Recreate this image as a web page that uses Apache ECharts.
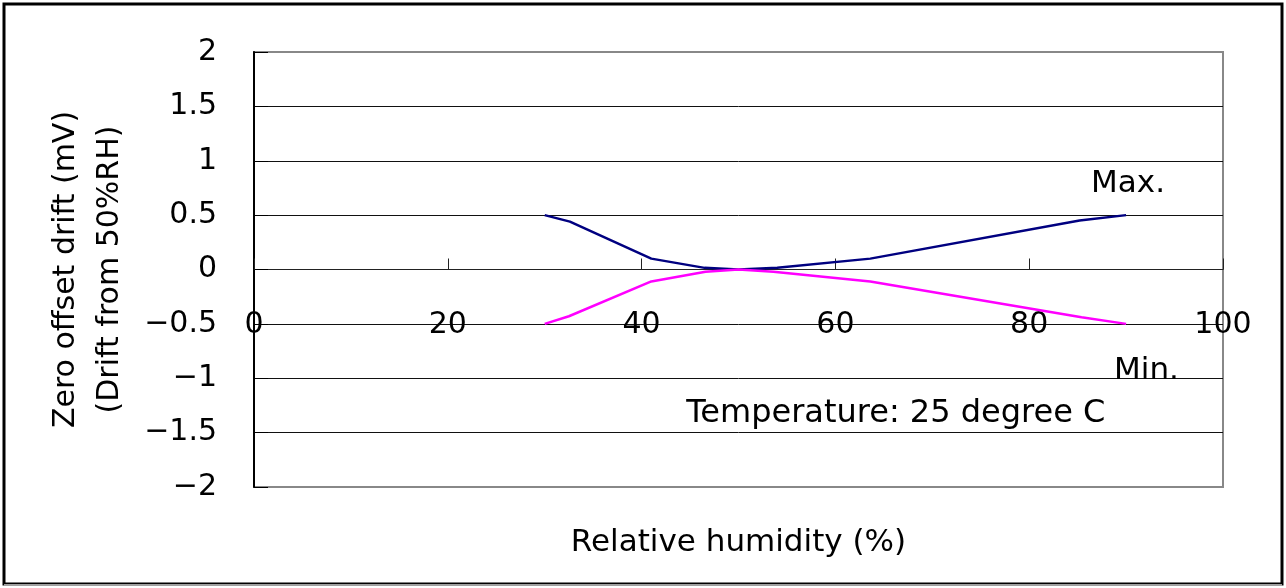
<!DOCTYPE html>
<html>
<head>
<meta charset="utf-8">
<script src="https://cdn.jsdelivr.net/npm/echarts@6/dist/echarts.min.js"></script>
<style>
html,body{margin:0;padding:0;background:#fff;}
#chart{width:1286px;height:588px;}
</style>
</head>
<body>
<div id="chart"></div>
<script>
// Data
const maxHumidity = [30, 32.6, 41, 46.5, 50, 54, 63.6, 85.2, 90];
const maxDrift    = [0.5, 0.44, 0.1, 0.015, 0, 0.015, 0.1, 0.45, 0.5];
const minHumidity = [30, 32.5, 41, 46.6, 50, 53.6, 63.6, 85.4, 90];
const minDrift    = [-0.5, -0.43, -0.11, -0.02, 0, -0.02, -0.11, -0.44, -0.5];
const xTickValues = [0, 20, 40, 60, 80, 100];
const yTickValues = [-2, -1.5, -1, -0.5, 0, 0.5, 1, 1.5, 2];
const labelMax = 'Max.';
const labelMin = 'Min.';
const noteText = 'Temperature: 25 degree C';
const xTitle = 'Relative humidity (%)';
const yTitle = 'Zero offset drift (mV)\n(Drift from 50%RH)';

const FONT = 'DejaVu Sans';
const chart = echarts.init(document.getElementById('chart'), null, {renderer: 'canvas'});

function pairs(xs, ys){ return xs.map((x,i)=>[x, ys[i]]); }

chart.setOption({
  animation: false,
  backgroundColor: '#ffffff',
  textStyle: {fontFamily: FONT},
  graphic: [
    {type:'rect', shape:{x:4, y:4, width:1278, height:580}, style:{fill:'none', stroke:'#000', lineWidth:3}, z:-10},
    {type:'line', shape:{x1:4, y1:585, x2:1282, y2:585}, style:{stroke:'#a0a0a0', lineWidth:2}, z:-9}
  ],
  grid: {
    left: 254, right: 63, top: 52, bottom: 101,
    containLabel: false, outerBoundsMode: 'none',
    show: true, borderColor: '#888', borderWidth: 2, backgroundColor: 'transparent'
  },
  xAxis: {
    type: 'value', min: 0, max: 100, interval: 20,
    axisLine: {show: true, onZero: true, lineStyle: {color: '#222', width: 1}},
    axisTick: {show: true, inside: true, length: 11, lineStyle: {color: '#222', width: 1}},
    axisLabel: {
      show: true, margin: -177, fontSize: 30, fontFamily: FONT, color: '#000',
      showMinLabel: true, showMaxLabel: true, hideOverlap: false
    },
    splitLine: {show: false},
    name: xTitle, nameLocation: 'middle', nameGap: 40,
    nameTextStyle: {fontSize: 31, fontFamily: FONT, color: '#000'}
  },
  yAxis: {
    type: 'value', min: -2, max: 2, interval: 0.5,
    axisLine: {show: true, onZero: false, lineStyle: {color: '#000', width: 2}},
    axisTick: {show: true, inside: true, length: 14, lineStyle: {color: '#000', width: 1}},
    axisLabel: {
      margin: 37, fontSize: 30, fontFamily: FONT, color: '#000',
      showMinLabel: true, showMaxLabel: true, hideOverlap: false,
      formatter: v => String(v).replace('-', '\u2212')
    },
    splitLine: {show: true, showMinLine: false, showMaxLine: false, lineStyle: {color: '#111', width: 1}},
    name: yTitle, nameLocation: 'middle', nameGap: 122, nameRotate: 90,
    nameTextStyle: {fontSize: 30, fontFamily: FONT, color: '#000', lineHeight: 44, align: 'center'}
  },
  series: [
    {
      type: 'line', name: labelMax, data: pairs(maxHumidity, maxDrift),
      symbol: 'none', lineStyle: {color: '#000080', width: 2.5}, itemStyle: {color: '#000080'},
      z: 5,
      markPoint: {
        symbol: 'circle', symbolSize: 0, silent: true,
        label: {show: true, position: 'inside', fontSize: 31, fontFamily: FONT, color: '#000', formatter: p => p.name},
        data: [
          {name: labelMax, coord: [90.2, 0.79]},
          {name: labelMin, coord: [92.1, -0.93]}
        ]
      }
    },
    {
      type: 'line', name: labelMin, data: pairs(minHumidity, minDrift),
      symbol: 'none', lineStyle: {color: '#ff00ff', width: 2.5}, itemStyle: {color: '#ff00ff'},
      z: 5,
      markPoint: {
        symbol: 'circle', symbolSize: 0, silent: true,
        label: {show: true, position: 'right', distance: 0, fontSize: 32, fontFamily: FONT, color: '#000', formatter: p => p.name},
        data: [
          {name: noteText, coord: [44.6, -1.33]}
        ]
      }
    }
  ]
});
</script>
</body>
</html>
